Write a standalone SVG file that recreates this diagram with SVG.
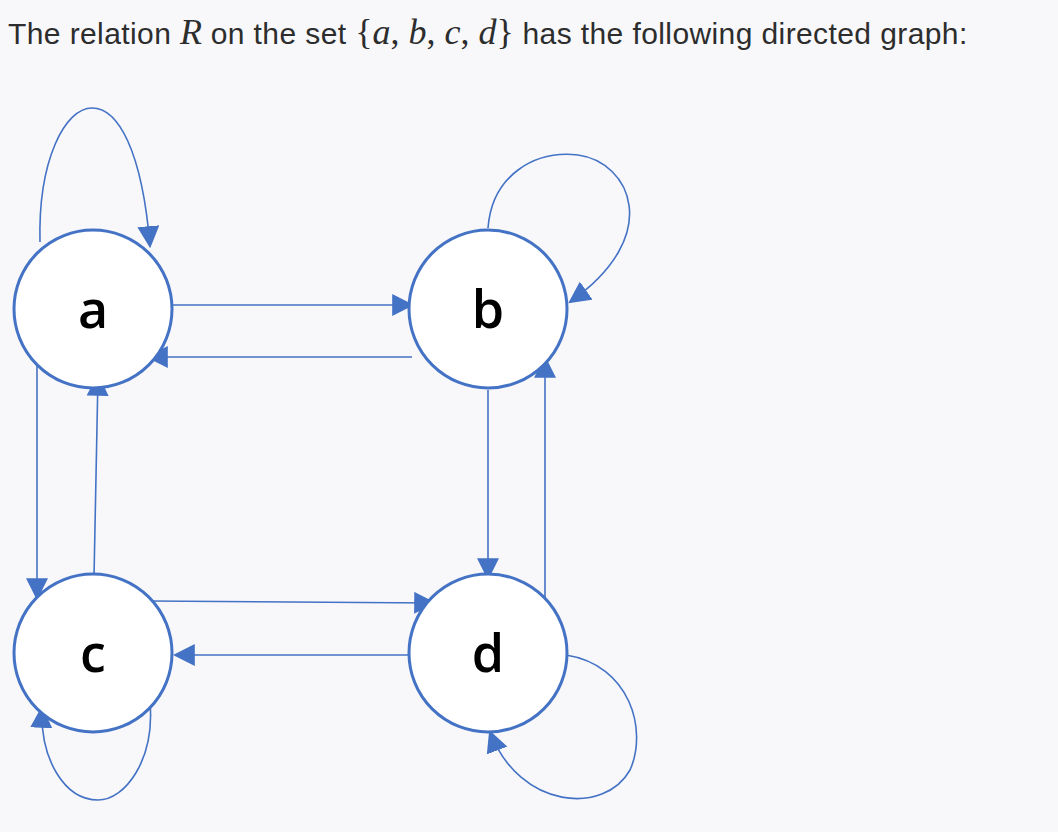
<svg xmlns="http://www.w3.org/2000/svg" width="1058" height="832" viewBox="0 0 1058 832">
<style>
.n{fill:#fff;stroke:#4472c4;stroke-width:3}
.l{font-family:"Open Sans","Liberation Sans",sans-serif;font-size:52px;font-weight:600;fill:#000;text-anchor:middle}
.e{fill:none;stroke:#4472c4;stroke-width:1.6;marker-end:url(#ar)}
.t{font-family:"Liberation Sans",sans-serif;font-size:30px;letter-spacing:0.4px;fill:#2d2d2d}
.m{font-family:"Liberation Serif",serif;font-style:italic;font-size:36px;letter-spacing:0}
.p{font-family:"Liberation Serif",serif;font-size:36px;letter-spacing:0}
</style>
<defs><marker id="ar" viewBox="0 0 10 10" refX="9" refY="5" markerWidth="22" markerHeight="22" orient="auto" markerUnits="userSpaceOnUse"><path d="M0,0L10,5L0,10z" fill="#4472c4"/></marker></defs>
<rect width="1058" height="832" fill="#f8f8fb"/>
<text class="t" x="8" y="44">The relation <tspan class="m">R</tspan> on the set <tspan class="p" font-size="40">{</tspan><tspan class="m">a</tspan><tspan class="p">, </tspan><tspan class="m">b</tspan><tspan class="p">, </tspan><tspan class="m">c</tspan><tspan class="p">, </tspan><tspan class="m">d</tspan><tspan class="p" font-size="40">}</tspan> has the following directed graph:</text>
<g id="edges">
<path class="e" d="M40,242 C38,160 65,108 92,108 C118,108 142,150 150,246"/>
<path class="e" d="M488,228 C492,175 535,150 578,155 C630,162 665,235 570,302"/>
<path class="e" d="M173,305 L412,305"/>
<path class="e" d="M412,357 L148,357"/>
<path class="e" d="M488,390 L488,578"/>
<path class="e" d="M545,600 L545,358"/>
<path class="e" d="M37,332 L37,598"/>
<path class="e" d="M94,577 L98,376"/>
<path class="e" d="M150,601 L434,603"/>
<path class="e" d="M410,655 L175,655"/>
<path class="e" d="M150,702 C155,760 125,800 98,800 C65,800 40,760 42,708"/>
<path class="e" d="M566,655 C630,665 648,730 630,770 C605,815 520,810 490,732"/>
</g>
<g id="a"><circle class="n" cx="93" cy="309" r="79"/><text class="l" x="93" y="328">a</text></g>
<g id="b"><circle class="n" cx="488" cy="309" r="79"/><text class="l" x="488" y="328">b</text></g>
<g id="c"><circle class="n" cx="93" cy="653" r="79"/><text class="l" x="93" y="672">c</text></g>
<g id="d"><circle class="n" cx="488" cy="653" r="79"/><text class="l" x="488" y="672">d</text></g>
</svg>
